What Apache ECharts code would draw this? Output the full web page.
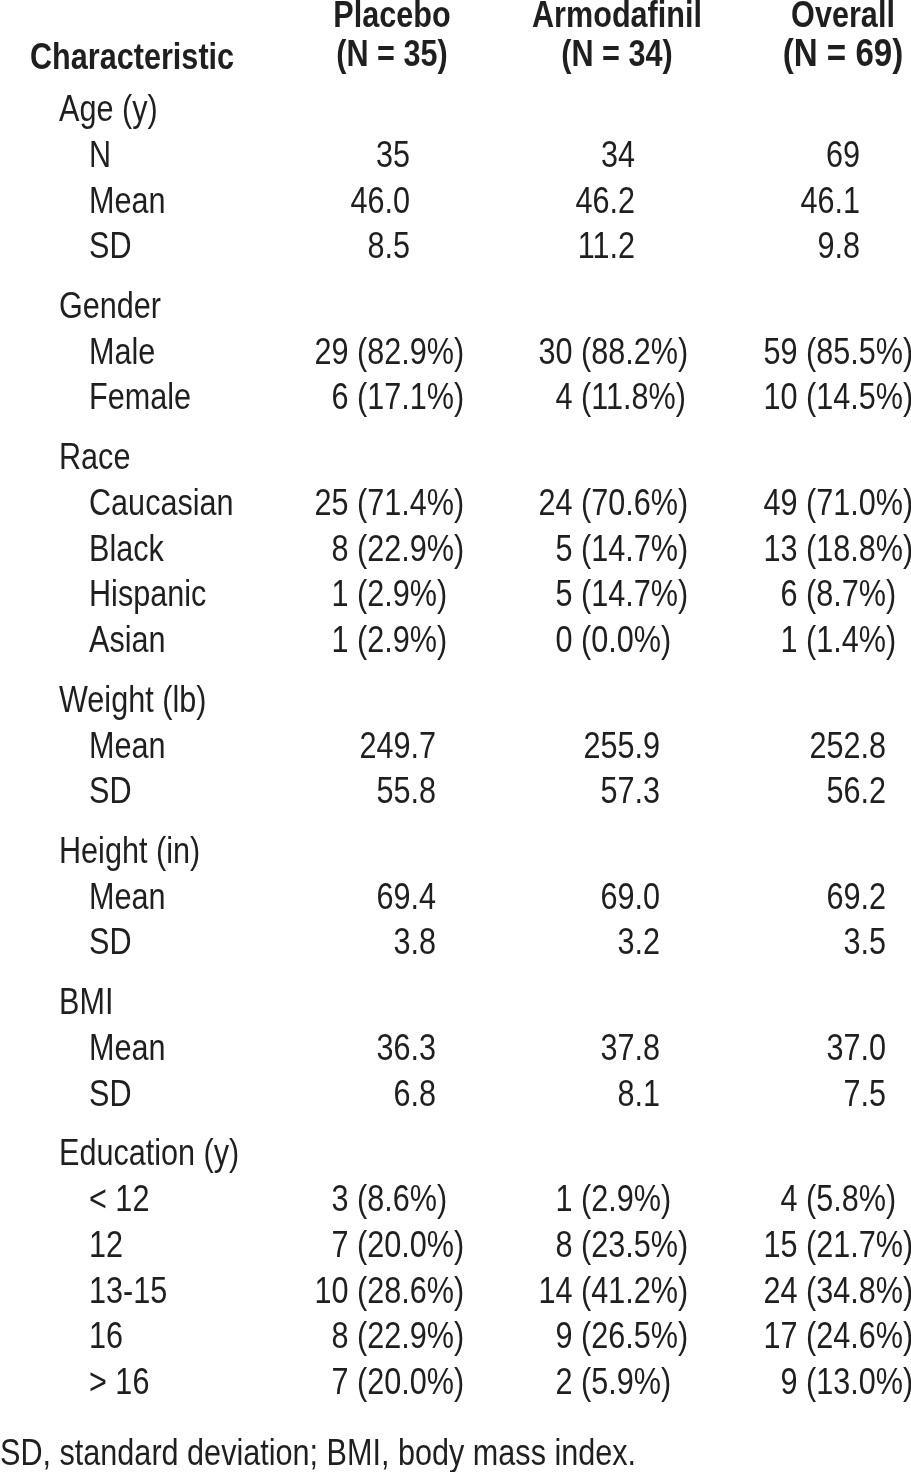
<!DOCTYPE html>
<html><head><meta charset="utf-8">
<script src="https://cdn.jsdelivr.net/npm/echarts@6/dist/echarts.min.js"></script>
<style>html,body{margin:0;padding:0;background:#fff}#c{width:911px;height:1472px}</style>
</head><body><div id="c"></div>
<script>
// ---------------- data ----------------
const headerLabel = 'Characteristic';
const columnNames = ['Placebo', 'Armodafinil', 'Overall'];
const columnNs = ['(N = 35)', '(N = 34)', '(N = 69)'];
const groupNames = ['Age (y)', 'Gender', 'Race', 'Weight (lb)', 'Height (in)', 'BMI', 'Education (y)'];
const rowLabels = ['N', 'Mean', 'SD', 'Male', 'Female', 'Caucasian', 'Black', 'Hispanic', 'Asian',
  'Mean', 'SD', 'Mean', 'SD', 'Mean', 'SD', '< 12', '12', '13-15', '16', '> 16'];
const rowGroup = [0, 0, 0, 1, 1, 2, 2, 2, 2, 3, 3, 4, 4, 5, 5, 6, 6, 6, 6, 6];
const placebo = ['35', '46.0', '8.5', '29 (82.9%)', '6 (17.1%)', '25 (71.4%)', '8 (22.9%)', '1 (2.9%)', '1 (2.9%)',
  '249.7', '55.8', '69.4', '3.8', '36.3', '6.8', '3 (8.6%)', '7 (20.0%)', '10 (28.6%)', '8 (22.9%)', '7 (20.0%)'];
const armodafinil = ['34', '46.2', '11.2', '30 (88.2%)', '4 (11.8%)', '24 (70.6%)', '5 (14.7%)', '5 (14.7%)', '0 (0.0%)',
  '255.9', '57.3', '69.0', '3.2', '37.8', '8.1', '1 (2.9%)', '8 (23.5%)', '14 (41.2%)', '9 (26.5%)', '2 (5.9%)'];
const overall = ['69', '46.1', '9.8', '59 (85.5%)', '10 (14.5%)', '49 (71.0%)', '13 (18.8%)', '6 (8.7%)', '1 (1.4%)',
  '252.8', '56.2', '69.2', '3.5', '37.0', '7.5', '4 (5.8%)', '15 (21.7%)', '24 (34.8%)', '17 (24.6%)', '9 (13.0%)'];
const footnote = 'SD, standard deviation; BMI, body mass index.';

// ---------------- layout / style ----------------
const L = {
  rowPx: 45.8, firstRowPx: 111, groupGap: 0.3,
  headRow1: -2.04, headRow2: -1.21, charRow: -1.135, footRow: 29.34,
  xChar: 30, xGroup: 59, xRow: 89, xFoot: 0,
  colCenter: [392, 617, 843],
  colParen: [357, 581, 806],
  colNumAge: [410, 635, 860],
  colNum: [436, 660, 886],
  size: 36, bigSize: 39, sx: 0.85,
  family: '"Liberation Sans", Arial, Helvetica, sans-serif',
  color: '#1f1f1f'
};

// ---------------- build cells ----------------
const columns = [placebo, armodafinil, overall];
const cells = [];
function add(x, y, text, align, bold, size) {
  cells.push({ x, y, text, align, bold: !!bold, size: size || L.size });
}
add(L.xChar, L.charRow, headerLabel, 'left', true);
columnNames.forEach((n, c) => add(L.colCenter[c], L.headRow1, n, 'center', true));
columnNs.forEach((n, c) => add(L.colCenter[c], L.headRow2, n, 'center', true, c === 2 ? L.bigSize : L.size));

let r = 0, prevGroup = -1;
rowLabels.forEach((lab, i) => {
  const g = rowGroup[i];
  if (g !== prevGroup) {
    if (prevGroup !== -1) r += L.groupGap;
    add(L.xGroup, r, groupNames[g], 'left');
    r += 1;
    prevGroup = g;
  }
  add(L.xRow, r, lab, 'left');
  columns.forEach((col, c) => {
    const txt = col[i];
    const k = txt.indexOf(' (');
    if (k >= 0) {
      add(L.colParen[c], r, txt.slice(0, k + 1), 'right');
      add(L.colParen[c], r, txt.slice(k + 1), 'left');
    } else {
      add((g === 0 ? L.colNumAge : L.colNum)[c], r, txt, 'right');
    }
  });
  r += 1;
});
add(L.xFoot, L.footRow, footnote, 'left');

// ---------------- chart ----------------
const H = 1472, W = 911;
const yMin = -L.firstRowPx / L.rowPx;
const yMax = yMin + H / L.rowPx;
const chart = echarts.init(document.getElementById('c'), null, { renderer: 'canvas' });
chart.setOption({
  animation: false,
  backgroundColor: '#ffffff',
  grid: { left: 0, right: 0, top: 0, bottom: 0 },
  xAxis: { type: 'value', min: 0, max: W, show: false },
  yAxis: { type: 'value', min: yMin, max: yMax, inverse: true, show: false },
  series: [{
    type: 'custom',
    silent: true,
    clip: false,
    data: cells.map(c => [c.x, c.y]),
    renderItem: function (params, api) {
      const c = cells[params.dataIndex];
      const p = api.coord([api.value(0), api.value(1)]);
      return {
        type: 'text',
        x: p[0], y: p[1],
        scaleX: L.sx,
        style: {
          text: c.text, x: 0, y: 0,
          align: c.align, verticalAlign: 'middle',
          fill: L.color,
          fontSize: c.size, fontFamily: L.family,
          fontWeight: c.bold ? 'bold' : 'normal'
        }
      };
    }
  }]
});
</script>
</body></html>
